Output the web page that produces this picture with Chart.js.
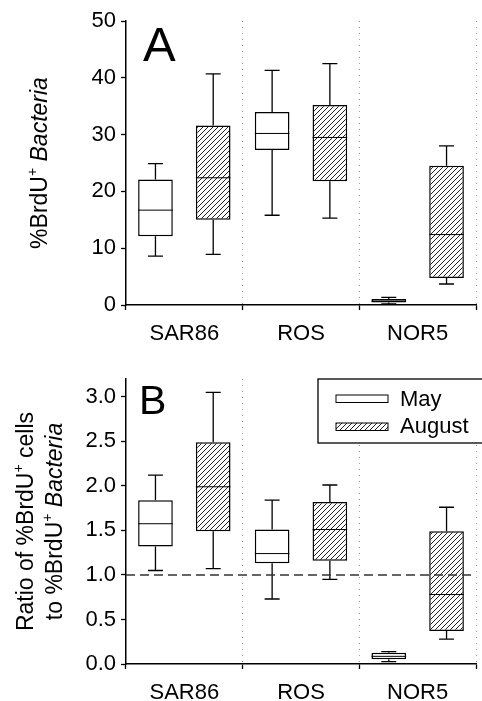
<!DOCTYPE html>
<html>
<head>
<meta charset="utf-8">
<script src="https://cdn.jsdelivr.net/npm/chart.js@4.4.0/dist/chart.umd.min.js"></script>
<style>
body{margin:0;background:#fff;}
#wrap{position:relative;width:482px;height:701px;overflow:hidden;}
canvas{position:absolute;left:0;}
</style>
</head>
<body>
<div id="wrap">
<canvas id="chartA" width="482" height="345" style="top:0"></canvas>
<canvas id="chartB" width="482" height="356" style="top:345px"></canvas>
</div>
<script>
// datos
var categorias = ['SAR86', 'ROS', 'NOR5'];
var series = ['May', 'August'];

// panel A: %BrdU+ Bacteria
var mayMinA = [8.6, 15.8, 0.2];
var mayQ1A  = [12.1, 27.3, 0.45];
var mayMedA = [16.7, 30.2, 0.7];
var mayQ3A  = [22.1, 34.0, 1.05];
var mayMaxA = [24.9, 41.3, 1.35];
var augMinA = [8.9, 15.3, 3.7];
var augQ1A  = [15.0, 21.8, 4.75];
var augMedA = [22.4, 29.5, 12.4];
var augQ3A  = [31.6, 35.2, 24.5];
var augMaxA = [40.7, 42.5, 28.0];

// panel B: ratio
var mayMinB = [1.05, 0.73, 0.026];
var mayQ1B  = [1.32, 1.13, 0.052];
var mayMedB = [1.575, 1.24, 0.086];
var mayQ3B  = [1.84, 1.51, 0.127];
var mayMaxB = [2.12, 1.84, 0.14];
var augMinB = [1.07, 0.95, 0.28];
var augQ1B  = [1.49, 1.16, 0.37];
var augMedB = [1.99, 1.51, 0.78];
var augQ3B  = [2.49, 1.82, 1.49];
var augMaxB = [3.05, 2.01, 1.76];

var ticksA = [0, 10, 20, 30, 40, 50];
var ticksB = [0, 0.5, 1.0, 1.5, 2.0, 2.5, 3.0];
var maxA = 50;
var maxB = 3.2;
var lineaRef = 1.0;

var FAM = '"Liberation Sans", Arial, sans-serif';
Chart.defaults.font.family = FAM;
Chart.defaults.color = '#000';

// rayado diagonal para August
function hatch(){
  var s = 5;
  var c = document.createElement('canvas');
  c.width = s; c.height = s;
  var g = c.getContext('2d');
  g.fillStyle = '#fff';
  g.fillRect(0, 0, s, s);
  g.strokeStyle = '#222';
  g.lineWidth = 1;
  g.beginPath();
  g.moveTo(0, s); g.lineTo(s, 0);
  g.moveTo(-1, 1); g.lineTo(1, -1);
  g.moveTo(s - 1, s + 1); g.lineTo(s + 1, s - 1);
  g.stroke();
  return g.createPattern(c, 'repeat');
}
var patron = hatch();

function pares(q1, q3){
  return q1.map(function(v, i){ return [v, q3[i]]; });
}

function fontFor(p){
  if (p.s === 'i') return 'italic 23px ' + FAM;
  if (p.s === 'sup') return '14px ' + FAM;
  return '23px ' + FAM;
}

function tituloRotado(ctx, parts, baseX, cy){
  var w = 0;
  parts.forEach(function(p){ ctx.font = fontFor(p); w += ctx.measureText(p.t).width; });
  ctx.save();
  ctx.translate(baseX, cy);
  ctx.rotate(-Math.PI / 2);
  ctx.fillStyle = '#000';
  ctx.textBaseline = 'alphabetic';
  var x = -w / 2;
  parts.forEach(function(p){
    ctx.font = fontFor(p);
    ctx.fillText(p.t, x, p.s === 'sup' ? -10 : 0);
    x += ctx.measureText(p.t).width;
  });
  ctx.restore();
}

function cajasPlugin(stats, extra){
  return {
    id: 'cajas',
    afterDatasetsDraw: function(chart){
      var ctx = chart.ctx;
      var y = chart.scales.y;
      ctx.save();
      ctx.strokeStyle = '#000';
      stats.forEach(function(st, d){
        var meta = chart.getDatasetMeta(d);
        meta.data.forEach(function(bar, i){
          var x = bar.x, w = bar.width;
          // mediana
          ctx.lineWidth = 1;
          ctx.beginPath();
          var ym = y.getPixelForValue(st.med[i]);
          ctx.moveTo(x - w / 2, ym); ctx.lineTo(x + w / 2, ym);
          ctx.stroke();
          // bigotes
          ctx.lineWidth = 1.3;
          var yq3 = y.getPixelForValue(st.q3[i]), ymax = y.getPixelForValue(st.max[i]);
          var yq1 = y.getPixelForValue(st.q1[i]), ymin = y.getPixelForValue(st.min[i]);
          ctx.beginPath();
          ctx.moveTo(x, yq3); ctx.lineTo(x, ymax);
          ctx.moveTo(x - 7.5, ymax); ctx.lineTo(x + 7.5, ymax);
          ctx.moveTo(x, yq1); ctx.lineTo(x, ymin);
          ctx.moveTo(x - 7.5, ymin); ctx.lineTo(x + 7.5, ymin);
          ctx.stroke();
        });
      });
      ctx.restore();
      if (extra) extra(chart);
    }
  };
}

function opciones(ymax, tickVals, top, xh, fmt){
  return {
    responsive: false,
    animation: false,
    devicePixelRatio: 1,
    layout: { padding: { left: 0, right: 6, top: top, bottom: 0 } },
    plugins: { legend: { display: false }, tooltip: { enabled: false } },
    scales: {
      x: {
        grid: {
          offset: true,
          color: function(c){ return (c.index === 0 || c.index === 3) ? 'rgba(0,0,0,0)' : '#9a9a9a'; },
          lineWidth: 1,
          tickLength: 5,
          tickColor: '#000',
          tickWidth: 1.3
        },
        border: { color: '#000', width: 1.5, dash: [1, 5] },
        ticks: { font: { size: 22 }, padding: 11, color: '#000' },
        afterFit: function(s){ s.height = xh; }
      },
      y: {
        min: 0,
        max: ymax,
        grid: { drawOnChartArea: false, tickLength: 5, tickColor: '#000', tickWidth: 1.3 },
        border: { color: '#000', width: 1.5 },
        ticks: { font: { size: 22 }, padding: 5, color: '#000', callback: fmt },
        afterBuildTicks: function(s){ s.ticks = tickVals.map(function(v){ return { value: v }; }); },
        afterFit: function(s){ s.width = 126; }
      }
    }
  };
}

function datasets(mQ1, mQ3, aQ1, aQ3){
  return [
    { label: series[0], data: pares(mQ1, mQ3), backgroundColor: '#fff', borderColor: '#000', borderWidth: 1.5, borderSkipped: false, categoryPercentage: 0.99, barPercentage: 0.6 },
    { label: series[1], data: pares(aQ1, aQ3), backgroundColor: patron, borderColor: '#000', borderWidth: 1.5, borderSkipped: false, categoryPercentage: 0.99, barPercentage: 0.6 }
  ];
}

// --- panel A
new Chart(document.getElementById('chartA'), {
  type: 'bar',
  data: { labels: categorias, datasets: datasets(mayQ1A, mayQ3A, augQ1A, augQ3A) },
  options: opciones(maxA, ticksA, 21, 40, function(v){ return v; }),
  plugins: [cajasPlugin([
    { min: mayMinA, q1: mayQ1A, med: mayMedA, q3: mayQ3A, max: mayMaxA },
    { min: augMinA, q1: augQ1A, med: augMedA, q3: augQ3A, max: augMaxA }
  ], function(chart){
    var ctx = chart.ctx, a = chart.chartArea;
    ctx.save();
    ctx.fillStyle = '#000';
    ctx.font = '49px ' + FAM;
    ctx.fillText('A', 143, 61);
    ctx.restore();
    tituloRotado(ctx, [{ t: '%BrdU' }, { t: '+', s: 'sup' }, { t: ' ' }, { t: 'Bacteria', s: 'i' }], 47, (a.top + a.bottom) / 2);
  })]
});

// --- panel B
new Chart(document.getElementById('chartB'), {
  type: 'bar',
  data: { labels: categorias, datasets: datasets(mayQ1B, mayQ3B, augQ1B, augQ3B) },
  options: opciones(maxB, ticksB, 34, 37, function(v){ return Number(v).toFixed(1); }),
  plugins: [cajasPlugin([
    { min: mayMinB, q1: mayQ1B, med: mayMedB, q3: mayQ3B, max: mayMaxB },
    { min: augMinB, q1: augQ1B, med: augMedB, q3: augQ3B, max: augMaxB }
  ], function(chart){
    var ctx = chart.ctx, a = chart.chartArea, y = chart.scales.y;
    // linea de referencia 1.0
    var yr = y.getPixelForValue(lineaRef);
    ctx.save();
    ctx.strokeStyle = '#333';
    ctx.lineWidth = 1.5;
    ctx.setLineDash([9, 5]);
    ctx.beginPath();
    ctx.moveTo(a.left, yr); ctx.lineTo(a.right, yr);
    ctx.stroke();
    ctx.setLineDash([]);
    // letra
    ctx.fillStyle = '#000';
    ctx.font = '41px ' + FAM;
    ctx.fillText('B', 139, 69);
    // leyenda
    ctx.fillStyle = '#fff';
    ctx.fillRect(318, a.top, 200, 64);
    ctx.strokeStyle = '#000';
    ctx.lineWidth = 1.3;
    ctx.strokeRect(318, a.top, 200, 64);
    ctx.lineWidth = 1;
    ctx.fillStyle = '#fff';
    ctx.fillRect(336, 50, 52, 7.5);
    ctx.strokeRect(336, 50, 52, 7.5);
    ctx.fillStyle = patron;
    ctx.fillRect(336, 78, 52, 7.5);
    ctx.strokeRect(336, 78, 52, 7.5);
    ctx.fillStyle = '#000';
    ctx.font = '22px ' + FAM;
    ctx.fillText(series[0], 400, 61);
    ctx.fillText(series[1], 400, 88);
    ctx.restore();
    var cy = (a.top + a.bottom) / 2;
    tituloRotado(ctx, [{ t: 'Ratio of %BrdU' }, { t: '+', s: 'sup' }, { t: ' cells' }], 33, cy);
    tituloRotado(ctx, [{ t: 'to %BrdU' }, { t: '+', s: 'sup' }, { t: ' ' }, { t: 'Bacteria', s: 'i' }], 61.5, cy);
  })]
});
</script>
</body>
</html>
